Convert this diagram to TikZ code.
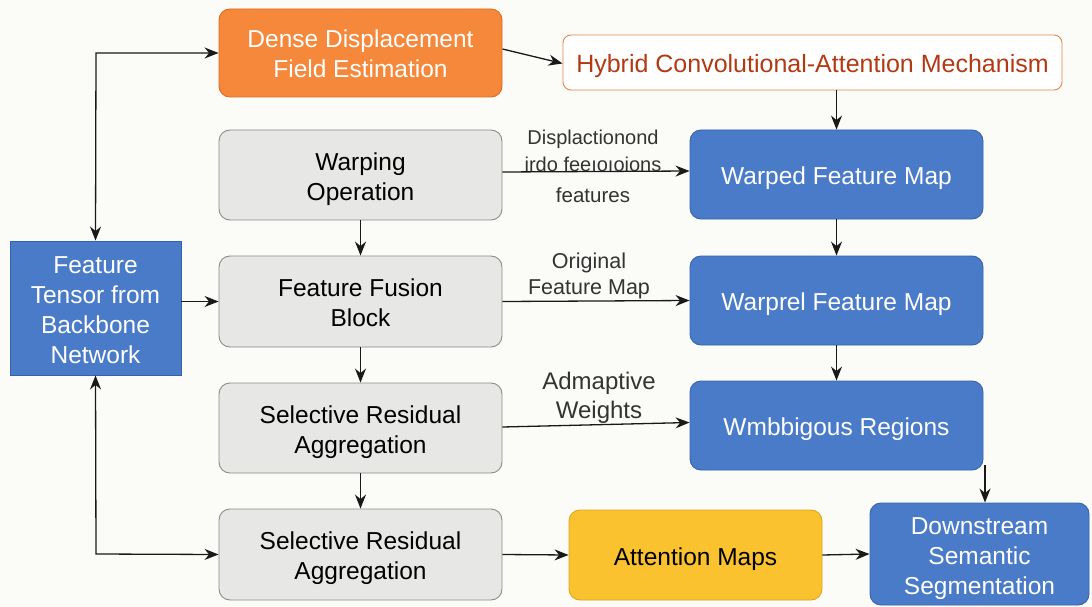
\documentclass[tikz,border=0pt]{standalone}
\usepackage{fontspec}
\setmainfont{Liberation Sans}
\usetikzlibrary{arrows.meta}
\definecolor{bg}{HTML}{FBFBF8}
\definecolor{orfill}{HTML}{F5883A}
\definecolor{ordraw}{HTML}{E0691C}
\definecolor{hyb}{HTML}{B23A12}
\definecolor{hybdraw}{HTML}{E3864A}
\definecolor{grfill}{HTML}{E7E7E6}
\definecolor{grdraw}{HTML}{8C8C8C}
\definecolor{blfill}{HTML}{4A7BC9}
\definecolor{bldraw}{HTML}{3762AA}
\definecolor{yefill}{HTML}{F9C22E}
\definecolor{yedraw}{HTML}{DFA61E}
\definecolor{lbl}{HTML}{333333}
\newcommand\boxtxt[1]{\raisebox{-4pt}[\height][\depth]{\begin{tabular}{@{}c@{}}#1\end{tabular}}}
\tikzset{
  box/.style={rectangle, rounded corners=11pt, line width=0.9pt, font=\fontsize{24.5}{30}\selectfont, inner sep=0pt},
  orbox/.style={box, fill=orfill, draw=ordraw, text=white},
  hybbox/.style={box, fill=white, draw=hybdraw, text=hyb, rounded corners=8pt},
  grbox/.style={box, fill=grfill, draw=grdraw, text=black},
  blbox/.style={box, fill=blfill, draw=bldraw, text=white},
  sqbox/.style={blbox, rounded corners=0pt},
  yebox/.style={box, fill=yefill, draw=yedraw, text=black},
  conn/.style={draw=black!90, line width=1.3pt, -{Stealth[length=14pt,width=11pt]}},
  conn2/.style={draw=black!90, line width=1.3pt, {Stealth[length=14pt,width=11pt]}-{Stealth[length=14pt,width=11pt]}},
  elabel/.style={text=lbl, align=center, font=\fontsize{21.5}{26}\selectfont}
}
\begin{document}
\begin{tikzpicture}[x=1pt,y=-1pt]
\fill[bg] (0,0) rectangle (1092,607);
\useasboundingbox (0,0) rectangle (1092,607);

\node[orbox, minimum width=283pt, minimum height=88pt] (dense) at (360.5,53) {\boxtxt{Dense Displacement\\Field Estimation}};
\node[hybbox, minimum width=499pt, minimum height=55pt, font=\fontsize{25}{30}\selectfont] (hyb) at (812.5,62.5) {\boxtxt{Hybrid Convolutional-Attention Mechanism}};
\node[grbox, minimum width=283pt, minimum height=90pt] (warp) at (360.5,175) {\boxtxt{Warping\\Operation}};
\node[grbox, minimum width=283pt, minimum height=91pt] (fuse) at (360.5,301.5) {\boxtxt{Feature Fusion\\Block}};
\node[grbox, minimum width=283pt, minimum height=90pt] (sra1) at (360.5,428) {\boxtxt{Selective Residual\\Aggregation}};
\node[grbox, minimum width=283pt, minimum height=91pt] (sra2) at (360.5,554.5) {\boxtxt{Selective Residual\\Aggregation}};
\node[sqbox, minimum width=171pt, minimum height=134pt] (ft) at (95.5,308) {\boxtxt{Feature\\Tensor from\\Backbone\\Network}};
\node[blbox, minimum width=293pt, minimum height=89pt] (wfm) at (836.5,174.5) {\boxtxt{Warped Feature Map}};
\node[blbox, minimum width=293pt, minimum height=89pt] (wrel) at (836.5,300.5) {\boxtxt{Warpr\kern-0.5pt el Feature Map}};
\node[blbox, minimum width=293pt, minimum height=89pt] (amb) at (836.5,425.5) {\boxtxt{Wmbbigous Regions}};
\node[yebox, minimum width=253pt, minimum height=90pt] (att) at (695.5,555) {\boxtxt{Attention Maps}};
\node[blbox, minimum width=219pt, minimum height=102pt] (down) at (979.5,554) {\boxtxt{Downstream\\Semantic\\Segmentation}};

\coordinate (tl) at (96,53);
\coordinate (bl) at (96,554);
\draw[conn2] (ft.north) -- (tl) -- (dense.west);
\draw[conn2] (ft.south) -- (bl) -- (sra2.west);
\draw[conn] (ft.east |- fuse.west) -- (fuse.west);
\draw[conn] ([yshift=4pt]dense.east) -- ([yshift=-1pt]hyb.west);
\draw[conn] (hyb.south -| wfm.north) -- (wfm.north);
\draw[conn] (wfm.south) -- (wrel.north);
\draw[conn] (wrel.south) -- (amb.north);
\coordinate (ambr) at (985,465);
\draw[conn] (ambr) -- (ambr |- down.north);
\draw[conn] (warp.south) -- (fuse.north);
\draw[conn] (fuse.south) -- (sra1.north);
\draw[conn] (sra1.south) -- (sra2.north);
\draw[conn] ([yshift=3pt]warp.east) -- ([yshift=3.5pt]wfm.west);
\draw[conn] (fuse.east) -- (wrel.west);
\draw[conn] ([yshift=1pt]sra1.east) -- ([yshift=3pt]amb.west);
\draw[conn] (sra2.east) -- (att.west);
\draw[conn] (att.east) -- (down.west);

\node[elabel, font=\fontsize{20}{27}\selectfont] (l1) at (593,151) {Displactionond\\irdo feeıoıoions};
\node[elabel, font=\fontsize{20.5}{27}\selectfont] (l1b) at (593,195) {features};
\node[elabel] (l2) at (589,276) {Original\\Feature Map};
\node[elabel, font=\fontsize{24}{29}\selectfont] (l3) at (599,398) {Admaptive\\Weights};
\end{tikzpicture}
\end{document}
